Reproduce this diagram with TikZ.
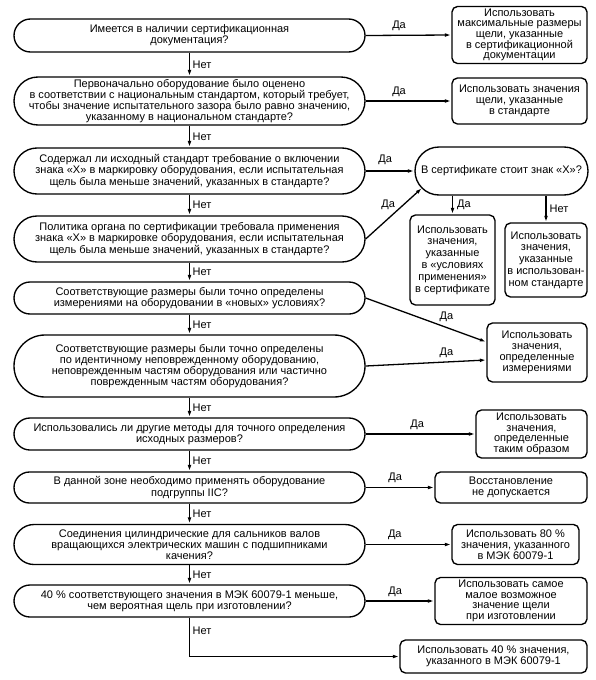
\documentclass[tikz,border=0pt]{standalone}
\usepackage{fontspec}
\setmainfont{Liberation Sans}
\usetikzlibrary{arrows.meta,calc}
\begin{document}
\begin{tikzpicture}[x=1pt,y=-1pt,
  every node/.style={font=\fontsize{11}{11.2}\selectfont, inner sep=0pt, align=center},
  dec/.style={draw, line width=1.35pt, minimum width=351pt, rounded corners=#1, minimum height=2*#1},
  res/.style={draw, line width=1.35pt, rounded corners=5.5pt},
  arr/.style={line width=1.3pt, -{Latex[length=6.5pt,width=3.8pt]}},
  lbl/.style={font=\fontsize{11}{11}\selectfont}]
\useasboundingbox (0,0) rectangle (595,680);

\node[dec=16.5pt] (d1) at (189.5,35.5) {Имеется в наличии сертификационная\\документация?};
\node[res, minimum width=135pt, minimum height=57pt, font=\fontsize{11}{10.4}\selectfont] (r1) at (519.5,35) {Использовать\\максимальные размеры\\щели, указанные\\в сертификационной\\документации};

\node[dec=24pt] (d2) at (189.5,101) {Первоначально оборудование было оценено\\в соответствии с национальным стандартом, который требует,\\чтобы значение испытательного зазора было равно значению,\\указанному в национальном стандарте?};
\node[res, minimum width=135pt, minimum height=46pt] (r2) at (519.5,101) {Использовать значения\\щели, указанные\\в стандарте};

\node[dec=23pt] (d3) at (189.5,171) {Содержал ли исходный стандарт требование о включении\\знака «Х» в маркировку оборудования, если испытательная\\щель была меньше значений, указанных в стандарте?};
\node[dec=24pt, minimum width=173pt] (dx) at (501.5,171) {В сертификате стоит знак «Х»?};
\coordinate (dxin) at (422,188);

\node[dec=23pt] (d4) at (189.5,239) {Политика органа по сертификации требовала применения\\знака «Х» в маркировке оборудования, если испытательная\\щель была меньше значений, указанных в стандарте?};
\node[res, minimum width=85pt, minimum height=90pt, font=\fontsize{11}{11.8}\selectfont] (rxy) at (452.5,260) {Использовать\\значения,\\указанные\\в «условиях\\применения»\\в сертификате};
\node[res, minimum width=82pt, minimum height=74pt, font=\fontsize{11}{11.8}\selectfont] (rxn) at (546,260) {Использовать\\значения,\\указанные\\в использован-\\ном стандарте};

\node[dec=16pt] (d5) at (189.5,298) {Соответствующие размеры были точно определены\\измерениями на оборудовании в «новых» условиях?};
\node[res, minimum width=100pt, minimum height=59pt] (r5) at (537,352.5) {Использовать\\значения,\\определенные\\измерениями};
\coordinate (r5a) at ($(r5.west)+(0,-10.5)$);
\coordinate (r5b) at ($(r5.west)+(0,7.5)$);

\node[dec=31pt] (d6) at (189.5,366) {Соответствующие размеры были точно определены\\по идентичному неповрежденному оборудованию,\\неповрежденным частям оборудования или частично\\поврежденным частям оборудования?};

\node[dec=16pt] (d7) at (189.5,434) {Использовались ли другие методы для точного определения\\исходных размеров?};
\node[res, minimum width=111pt, minimum height=48pt, font=\fontsize{11}{10.6}\selectfont] (r7) at (531.5,434) {Использовать\\значения,\\определенные\\таким образом};

\node[dec=15.5pt] (d8) at (189.5,487.5) {В данной зоне необходимо применять оборудование\\подгруппы IIC?};
\node[res, minimum width=152pt, minimum height=31pt] (r8) at (511,487.5) {Восстановление\\не допускается};

\node[dec=20pt] (d9) at (189.5,544.5) {Соединения цилиндрические для сальников валов\\вращающихся электрических машин с подшипниками\\качения?};
\node[res, minimum width=127pt, minimum height=40pt] (r9) at (515.5,544.5) {Использовать 80 \%\\значения, указанного\\в МЭК 60079-1};

\node[dec=16pt] (d10) at (189.5,601) {40 \% соответствующего значения в МЭК 60079-1 меньше,\\чем вероятная щель при изготовлении?};
\node[res, minimum width=152pt, minimum height=47pt, font=\fontsize{11}{10.6}\selectfont] (r10) at (511,601) {Использовать самое\\малое возможное\\значение щели\\при изготовлении};

\node[res, minimum width=187pt, minimum height=33pt] (r11) at (493.5,656.5) {Использовать 40 \% значения,\\указанного в МЭК 60079-1};

% "Нет" vertical connectors
\draw[arr] (d1) -- node[lbl, right=2.5pt] {Нет} (d2);
\draw[arr] (d2) -- node[lbl, right=2.5pt] {Нет} (d3);
\draw[arr] (d3) -- node[lbl, right=2.5pt] {Нет} (d4);
\draw[arr] (d4) -- node[lbl, right=2.5pt] {Нет} (d5);
\draw[arr] (d5) -- node[lbl, right=2.5pt] {Нет} (d6);
\draw[arr] (d6) -- node[lbl, right=2.5pt] {Нет} (d7);
\draw[arr] (d7) -- node[lbl, right=2.5pt] {Нет} (d8);
\draw[arr] (d8) -- node[lbl, right=2.5pt] {Нет} (d9);
\draw[arr] (d9) -- node[lbl, right=2.5pt] {Нет} (d10);
\draw[arr] (d10.south) |- node[lbl, pos=0.17, right=2.5pt] {Нет} (r11.west);

% "Да" connectors
\draw[arr] (d1.east) -- node[lbl, pos=0.39, above=4pt] {Да} (r1.west);
\draw[arr] (d2.east) -- node[lbl, pos=0.39, above=4pt] {Да} (r2.west);
\draw[arr] (d3.east) -- node[lbl, pos=0.4, above=6pt] {Да} (dx.west);
\draw[arr] (d4.east) -- node[lbl, pos=0.55, above left=1pt] {Да} (dxin);
\draw[arr] (dx.south -| rxy.north) -- node[lbl, right=4pt] {Да} (rxy.north);
\draw[arr] (dx.south -| rxn.north) -- node[lbl, right=3pt] {Нет} (rxn.north);
\draw[arr] (d5.east) -- node[lbl, pos=0.67, above=5pt] {Да} (r5a);
\draw[arr] (d6.east) -- node[lbl, pos=0.67, above=4pt] {Да} (r5b);
\draw[arr] (d7.east) -- node[lbl, pos=0.47, above=4pt] {Да} (r7.west);
\draw[arr] (d8.east) -- node[lbl, pos=0.43, above=4pt] {Да} (r8.west);
\draw[arr] (d9.east) -- node[lbl, pos=0.34, above=4pt] {Да} (r9.west);
\draw[arr] (d10.east) -- node[lbl, pos=0.43, above=4pt] {Да} (r10.west);
\end{tikzpicture}
\end{document}
